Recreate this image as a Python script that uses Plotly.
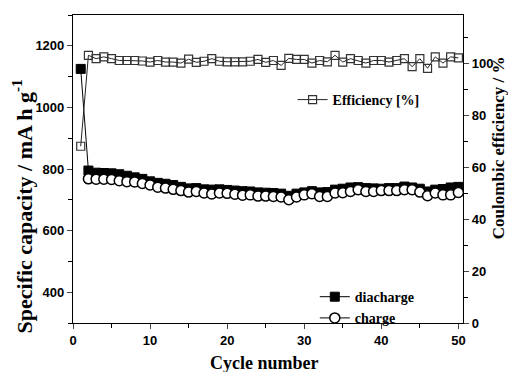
import plotly.graph_objects as go

cycles = list(range(1, 51))
discharge = [1125, 795, 788, 787, 786, 783, 778, 773, 768, 760,
             755, 752, 748, 742, 737, 738, 734, 733, 734, 732,
             730, 728, 727, 724, 723, 722, 720, 713, 720, 724,
             728, 724, 725, 733, 736, 740, 741, 738, 737, 736,
             738, 738, 743, 740, 736, 727, 733, 735, 740, 742]
charge = [None, 768, 767, 767, 766, 762, 759, 758, 753, 748,
          741, 738, 734, 730, 725, 727, 722, 719, 722, 721,
          718, 715, 716, 712, 712, 711, 709, 700, 709, 716,
          720, 711, 711, 722, 723, 727, 733, 727, 727, 730,
          730, 730, 733, 733, 725, 713, 722, 716, 716, 724]
efficiency = [68, 103, 101.7, 102.4, 101.7, 101, 101, 101, 100.8, 100.4,
              101, 100.4, 100.4, 100, 101.5, 100.3, 100.7, 101.7, 100.7, 100.5,
              100.5, 100.5, 100.7, 101.4, 100.3, 101, 99.1, 101.8, 101.4, 101.4,
              100, 101, 100.5, 103, 100.4, 101.7, 101, 100, 101, 101,
              100.4, 101, 101.7, 98.6, 101.7, 98, 102.4, 100, 102.4, 102]

fig = go.Figure()
fig.add_trace(go.Scatter(
    x=cycles, y=discharge, name="<b>diacharge</b>", mode="lines+markers",
    line=dict(color="black", width=1),
    marker=dict(symbol="square", size=9, color="black", line=dict(color="black", width=1)),
    legend="legend2"))
fig.add_trace(go.Scatter(
    x=cycles, y=charge, name="<b>charge</b>", mode="lines+markers",
    line=dict(color="black", width=1),
    marker=dict(symbol="circle", size=10, color="white", line=dict(color="black", width=1.5)),
    legend="legend2"))
fig.add_trace(go.Scatter(
    x=cycles, y=efficiency, name="<b>Efficiency [%]</b>", mode="lines+markers",
    yaxis="y2",
    line=dict(color="#222222", width=1),
    marker=dict(symbol="square-open", size=8, color="#333333", line=dict(width=1.2)),
    legend="legend"))

tickfont = dict(family="Liberation Sans, Arial", size=13, color="black")
titlefont = "Liberation Serif, Times New Roman"

fig.update_layout(
    width=508, height=372,
    showlegend=True,
    margin=dict(l=73, r=45, t=15, b=49),
    paper_bgcolor="white", plot_bgcolor="white",
    xaxis=dict(range=[0, 50.6], dtick=10, tick0=0, ticks="outside", ticklen=5,
               tickwidth=1, showline=True, linecolor="black", linewidth=1.2,
               mirror=True, showgrid=False, zeroline=False,
               tickfont=tickfont, tickprefix="<b>", ticksuffix="</b>",
               minor=dict(dtick=5, tick0=0, ticks="outside", ticklen=4, tickcolor="black")),
    yaxis=dict(range=[300, 1300], dtick=200, tick0=0, ticks="outside", ticklen=5,
               showline=True, linecolor="black", linewidth=1.2, showgrid=False,
               zeroline=False, tickfont=tickfont, tickprefix="<b>", ticksuffix="</b>",
               minor=dict(dtick=100, tick0=0, ticks="outside", ticklen=4, tickcolor="black")),
    yaxis2=dict(range=[0, 118.5], dtick=20, tick0=0, ticks="outside", ticklen=5,
                overlaying="y", side="right", showline=True, linecolor="black",
                linewidth=1.2, showgrid=False, zeroline=False, tickfont=tickfont,
                tickprefix="<b>", ticksuffix="</b>",
                minor=dict(dtick=10, tick0=0, ticks="outside", ticklen=4, tickcolor="black")),
    legend=dict(x=0.563, y=0.724, xanchor="left", yanchor="middle",
                bgcolor="rgba(0,0,0,0)", borderwidth=0,
                font=dict(family=titlefont, size=14, color="black"),
                itemwidth=30, tracegroupgap=0, visible=True),
    legend2=dict(x=0.62, y=0.05, xanchor="left", yanchor="middle",
                 bgcolor="rgba(0,0,0,0)", borderwidth=0,
                 font=dict(family=titlefont, size=14, color="black"),
                 itemwidth=30, tracegroupgap=0, traceorder="normal", visible=True),
    annotations=[
        dict(text="<b>Specific capacity / mA h g<sup>-1</sup></b>", x=-0.131, y=0.378,
             xref="paper", yref="paper", xanchor="center", yanchor="middle",
             textangle=-90, showarrow=False,
             font=dict(family=titlefont, size=22, color="black")),
        dict(text="<b>Coulombic efficiency / %</b>", x=1.09, y=0.568,
             xref="paper", yref="paper", xanchor="center", yanchor="middle",
             textangle=-90, showarrow=False,
             font=dict(family=titlefont, size=17, color="black")),
        dict(text="<b>Cycle number</b>", x=0.49, y=-0.13,
             xref="paper", yref="paper", xanchor="center", yanchor="middle",
             showarrow=False,
             font=dict(family=titlefont, size=18, color="black")),
    ],
)
fig.write_html("out.html", config={"displayModeBar": False},
               post_script="document.body.style.margin='0';")
